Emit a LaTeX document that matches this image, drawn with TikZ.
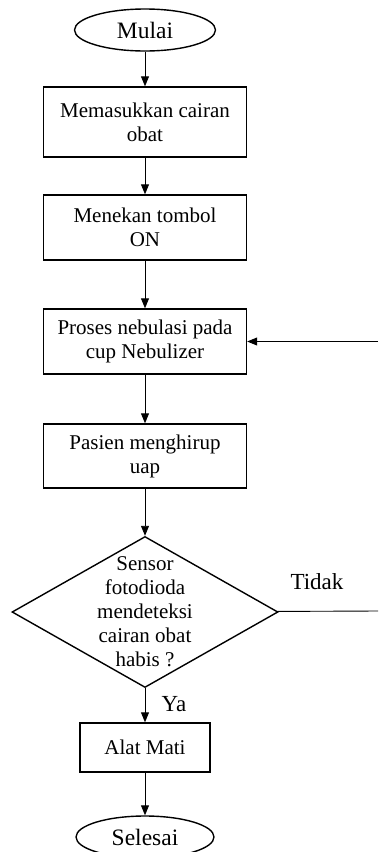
\documentclass[tikz,border=0pt]{standalone}
\usepackage{fontspec}
\setmainfont{Liberation Serif}
\usetikzlibrary{arrows.meta, positioning, shapes.geometric}
\tikzset{
  terminal/.style={draw, ellipse, line width=1.4pt, minimum width=141pt,
                   minimum height=42pt, inner sep=0pt,
                   font=\fontsize{23.5}{26}\selectfont},
  block/.style={draw, line width=1.4pt, align=center, minimum width=203pt,
                minimum height=65pt, inner sep=0pt},
  decision/.style={draw, diamond, line width=1.4pt, minimum width=266pt,
                   minimum height=151pt, inner sep=0pt},
  flow/.style={line width=0.9pt, -{Triangle[length=10pt, width=8pt]}},
  cabang/.style={font=\fontsize{23}{26}\selectfont},
}

\begin{document}
\begin{tikzpicture}[x=1pt, y=1pt, font=\fontsize{21}{24}\selectfont]
  \useasboundingbox (0,0) rectangle (378,-852);

  % ----- main column -----
  \node[terminal] (mulai) at (145,-30) {Mulai};
  \node[block, minimum height=70pt] (isi) at (145,-122) {Memasukkan cairan\\obat};
  \node[block] (tombol) at (145,-227.5) {Menekan tombol\\ON};
  \node[block] (nebul) at (145,-341.5) {Proses nebulasi pada\\cup Nebulizer};
  \node[block, minimum height=64pt] (hirup) at (145,-456) {Pasien menghirup\\uap};
  \node[decision] (cek) at (145,-612) {};
  \node[align=center] (cektxt) at (cek.center)
        {Sensor\\fotodioda\\mendeteksi\\cairan obat\\habis ?};
  \node[block, minimum width=130pt, minimum height=49pt] (mati) at (145,-747.5) {Alat Mati};
  \node[terminal, minimum width=138pt] (selesai) at (145,-837) {Selesai};

  % ----- branch labels -----
  \node[cabang] (tidak) at (317,-582) {Tidak};
  \node[cabang] (ya) at (174,-704) {Ya};

  % ----- open ends at the right edge -----
  \coordinate (ulang) at (378,-341.5);
  \coordinate (keluar) at (378,-611);

  % ----- connectors -----
  \draw[flow] (mulai) -- (isi);
  \draw[flow] (isi) -- (tombol);
  \draw[flow] (tombol) -- (nebul);
  \draw[flow] (nebul) -- (hirup);
  \draw[flow] (hirup) -- (cek);
  \draw[flow] (cek) -- (mati);
  \draw[flow] (mati) -- (selesai);
  \draw[flow] (ulang) -- (nebul);
  \draw[line width=0.9pt] (cek) -- (keluar);
\end{tikzpicture}
\end{document}
